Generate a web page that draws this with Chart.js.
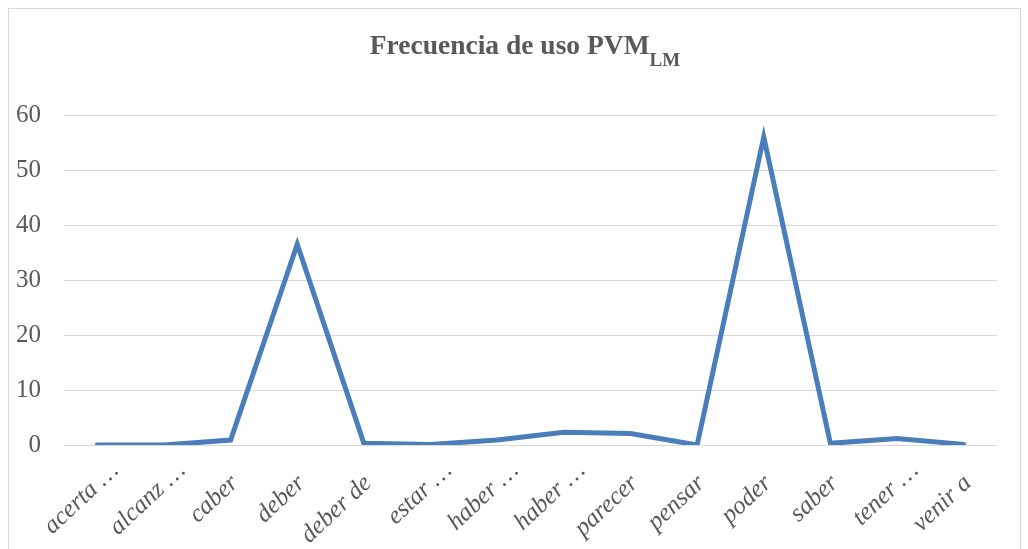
<!DOCTYPE html>
<html>
<head>
<meta charset="utf-8">
<script src="https://cdn.jsdelivr.net/npm/chart.js@4.4.1/dist/chart.umd.min.js"></script>
<style>
  html, body { margin: 0; padding: 0; background: #fff; }
  #wrap { position: relative; width: 1028px; height: 549px; overflow: hidden; }
  #frame { position: absolute; left: 8px; top: 8px; width: 1011px; height: 600px; border: 1px solid #d9d9d9; }
  canvas { position: absolute; left: 0; top: 0; }
</style>
</head>
<body>
<div id="wrap">
  <div id="frame"></div>
  <canvas id="chart" width="1028" height="549"></canvas>
</div>
<script>
// categorias (etiquetas truncadas como en el original)
const categories = ['acerta …', 'alcanz …', 'caber', 'deber', 'deber de', 'estar …', 'haber …',
  'haber …', 'parecer', 'pensar', 'poder', 'saber', 'tener …', 'venir a'];

// frecuencia de uso
const frequencies = [0, 0, 0.9, 36.5, 0.3, 0.1, 0.9, 2.3, 2.1, 0, 56, 0.3, 1.2, 0.1];

const yTicks = [0, 10, 20, 30, 40, 50, 60];

const titleMain = 'Frecuencia de uso PVM';
const titleSub = 'LM';

const textGray = '#595959';
const gridGray = '#d9d9d9';
const serif = '"Liberation Serif", "Times New Roman", serif';

// Titulo con subindice
const titlePlugin = {
  id: 'subTitle',
  afterDraw(chart) {
    const ctx = chart.ctx;
    ctx.save();
    ctx.fillStyle = textGray;
    ctx.textBaseline = 'alphabetic';
    ctx.textAlign = 'left';
    ctx.font = 'bold 27.5px ' + serif;
    const w1 = ctx.measureText(titleMain).width;
    ctx.font = 'bold 19px ' + serif;
    const w2 = ctx.measureText(titleSub).width;
    const x = 525 - (w1 + w2) / 2;
    ctx.font = 'bold 27.5px ' + serif;
    ctx.fillText(titleMain, x, 54);
    ctx.font = 'bold 19px ' + serif;
    ctx.fillText(titleSub, x + w1, 66);
    ctx.restore();
  }
};

new Chart(document.getElementById('chart'), {
  type: 'line',
  plugins: [titlePlugin],
  data: {
    labels: categories,
    datasets: [{
      data: frequencies,
      borderColor: '#4a7ebb',
      borderWidth: 5,
      borderCapStyle: 'round',
      pointRadius: 0,
      tension: 0,
      fill: false
    }]
  },
  options: {
    responsive: false,
    animation: false,
    layout: { padding: { left: 0, right: 31, top: 115, bottom: 0 } },
    plugins: { legend: { display: false }, tooltip: { enabled: false } },
    scales: {
      x: {
        offset: true,
        grid: { display: false },
        border: { display: false },
        ticks: {
          color: textGray,
          font: { family: serif, size: 25, style: 'italic' },
          minRotation: 43,
          maxRotation: 43,
          autoSkip: false,
          padding: 3,
          labelOffset: 18,
          // las etiquetas completas quedan un poco mas abajo que las truncadas, como en Excel
          callback(value) {
            const lbl = categories[value];
            return lbl.endsWith('…') ? lbl : lbl + '\u2002 ';
          }
        },
        afterFit(scale) { scale.height = 104; }
      },
      y: {
        min: 0,
        max: 60,
        afterBuildTicks(scale) { scale.ticks = yTicks.map(v => ({ value: v })); },
        grid: { color: gridGray, lineWidth: 1, drawTicks: false },
        border: { display: false },
        ticks: {
          color: textGray,
          font: { family: serif, size: 25 },
          padding: 23
        },
        afterFit(scale) { scale.width = 64; }
      }
    }
  }
});
</script>
</body>
</html>
